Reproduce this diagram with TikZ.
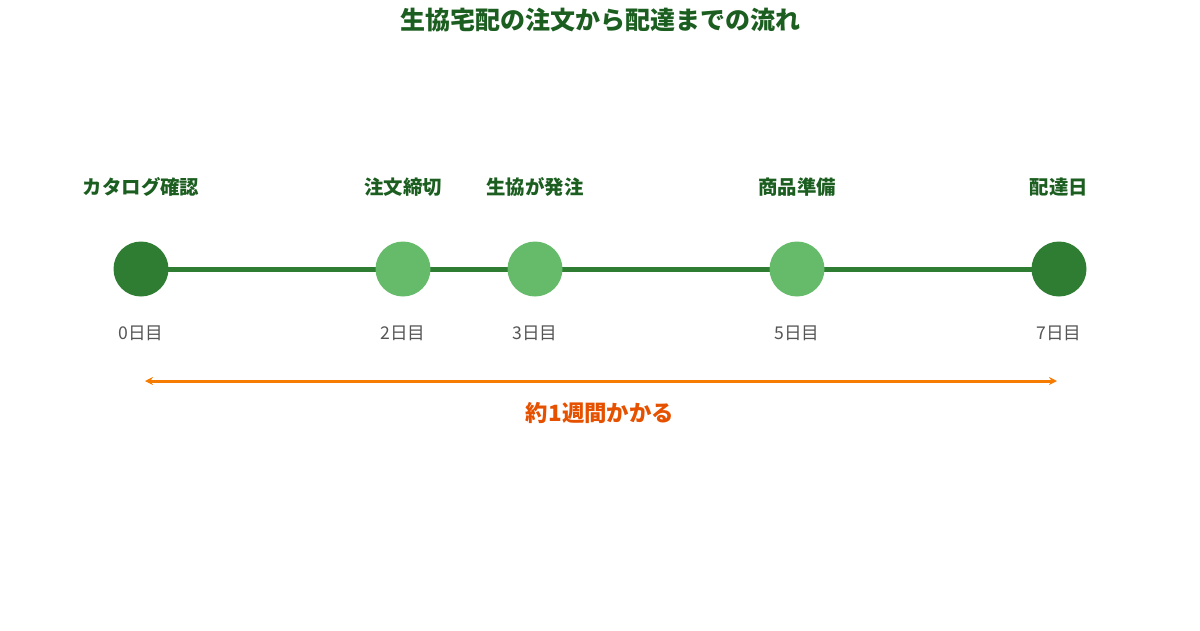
\documentclass[tikz,border=0pt]{standalone}
\usepackage{fontspec}
\setmainfont{Noto Sans CJK JP}
\usetikzlibrary{arrows.meta}
\definecolor{dkgreen}{HTML}{2E7D32}
\definecolor{ltgreen}{HTML}{66BB6A}
\definecolor{txgreen}{HTML}{1B5E20}
\definecolor{daygray}{HTML}{555555}
\definecolor{orng}{HTML}{F57C00}
\definecolor{orngtx}{HTML}{E65100}
\begin{document}
\begin{tikzpicture}[x=1pt,y=-1pt,
  milestone/.style={circle,minimum size=55pt,inner sep=0pt},
  dkdot/.style={milestone,fill=dkgreen},
  ltdot/.style={milestone,fill=ltgreen},
  steplabel/.style={font=\fontsize{19.4}{22}\selectfont\bfseries,text=txgreen},
  daylabel/.style={font=\fontsize{17.6}{20}\selectfont,text=daygray},
  track/.style={draw=dkgreen,line width=5pt},
  span/.style={draw=orng,line width=3pt,{Stealth[length=8pt,width=8pt]}-{Stealth[length=8pt,width=8pt]}}
]
\useasboundingbox (0,0) rectangle (1200,630);
\node[font=\fontsize{25}{28}\selectfont\bfseries,text=txgreen] (title) at (600,20) {生協宅配の注文から配達までの流れ};
\coordinate (p0) at (141,269);
\coordinate (p2) at (403,269);
\coordinate (p3) at (535,269);
\coordinate (p5) at (797,269);
\coordinate (p7) at (1059,269);
\draw[track] (p0) -- (p7);
\node[dkdot] (d0) at (p0) {};
\node[ltdot] (d2) at (p2) {};
\node[ltdot] (d3) at (p3) {};
\node[ltdot] (d5) at (p5) {};
\node[dkdot] (d7) at (p7) {};
\node[steplabel] (s0) at (141,187) {カタログ確認};
\node[steplabel] (s2) at (403,187) {注文締切};
\node[steplabel] (s3) at (535,187) {生協が発注};
\node[steplabel] (s5) at (797,187) {商品準備};
\node[steplabel] (s7) at (1059,187) {配達日};
\node[daylabel] (l0) at (141,333) {0日目};
\node[daylabel] (l2) at (403,333) {2日目};
\node[daylabel] (l3) at (535,333) {3日目};
\node[daylabel] (l5) at (797,333) {5日目};
\node[daylabel] (l7) at (1059,333) {7日目};
\coordinate (a0) at (145,381);
\coordinate (a1) at (1057,381);
\draw[span] (a0) -- (a1);
\node[font=\fontsize{22.4}{25}\selectfont\bfseries,text=orngtx] (dur) at (600,413) {約1週間かかる};
\end{tikzpicture}
\end{document}
